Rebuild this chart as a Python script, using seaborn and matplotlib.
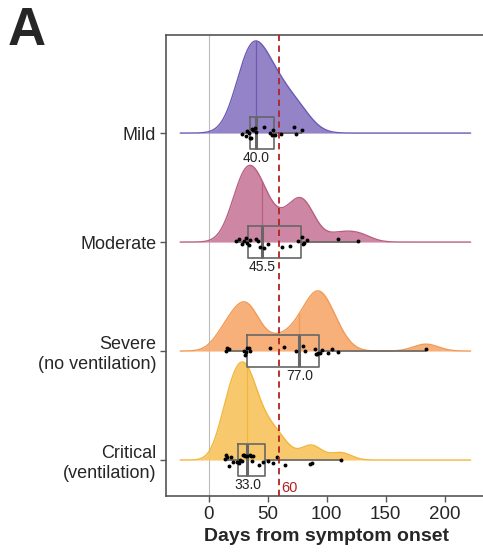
import numpy as np
import pandas as pd
import matplotlib
matplotlib.use("Agg")
import matplotlib.pyplot as plt
import seaborn as sns

# ---- data ----
groups = ["Mild", "Moderate", "Severe\n(no ventilation)", "Critical\n(ventilation)"]
mild_days = [28, 32, 33, 34, 35, 36, 37, 38, 39, 40, 47, 52, 54, 55, 56, 61, 72, 74, 79]
moderate_days = [23, 26, 28, 30, 32, 33, 34, 35, 40, 42, 44, 47, 50, 62, 69, 76, 79, 80, 81, 83, 110, 127]
severe_days = [15, 16, 17, 30, 31, 32, 33, 34, 35, 52, 64, 74, 80, 82, 90, 91, 92, 93, 94, 96, 101, 105, 110, 184]
critical_days = [14, 15, 16, 17, 19, 21, 24, 26, 27, 28, 29, 30, 31, 33, 35, 36, 37, 38, 43, 46, 50, 55, 58, 65, 86, 88, 112]
threshold_days = 60
x_ticks = [0, 50, 100, 150, 200]

fill_colors = ["#8E7CC3", "#CB809E", "#F7AC73", "#F8C664"]
line_colors = ["#6B5BB5", "#B8607F", "#F29A55", "#F2B63C"]
bandwidths = [12.0, 10.5, 10.5, 8.8]

all_days = [mild_days, moderate_days, severe_days, critical_days]
df = pd.DataFrame({
    "group": np.repeat(groups, [len(d) for d in all_days]),
    "days": np.concatenate(all_days),
})

sns.set_style("white")
plt.rcParams["font.family"] = ["Liberation Sans", "DejaVu Sans"]

fig = plt.figure(figsize=(4.83, 5.53), dpi=100)
ax = fig.add_axes([166 / 483, 57 / 553, 320 / 483, 461 / 553])

# boxplot + points through seaborn
sns.boxplot(data=df, x="days", y="group", order=groups, orient="h", width=0.29,
            whis=(0, 100), fill=False, color="#666666", linewidth=1.2,
            showfliers=False, showcaps=False,
            medianprops={"linewidth": 2.2, "color": "#666666"},
            ax=ax, zorder=3)
np.random.seed(3)
sns.stripplot(data=df, x="days", y="group", order=groups, orient="h", color="black",
              size=2.8, jitter=0.055, ax=ax, zorder=4)

# density ridges
grid = np.linspace(-24, 222, 600)
dens = []
for d, bw in zip(all_days, bandwidths):
    d = np.asarray(d, float)
    k = np.exp(-0.5 * ((grid[:, None] - d[None, :]) / bw) ** 2).sum(1) / (len(d) * bw * np.sqrt(2 * np.pi))
    dens.append(k)
scale = 0.9 / max(k.max() for k in dens)
for i, (k, d) in enumerate(zip(dens, all_days)):
    top = i - scale * k
    ax.fill_between(grid, i, top, color=fill_colors[i], alpha=0.95, lw=0, zorder=1 + i * 0.01)
    ax.plot(grid, top, color=line_colors[i], lw=1.0, zorder=1.005 + i * 0.01)
    med = float(np.median(d))
    kmed = np.interp(med, grid, k)
    ax.plot([med, med], [i, i - scale * kmed], color=line_colors[i], lw=0.9, zorder=1.006 + i * 0.01)
    ax.text(med, i + 0.225, f"{med:.1f}", ha="center", va="center", fontsize=10, color="#222222", zorder=5)

ax.axvline(0, color="#BBBBBB", lw=0.8, zorder=0.5)
ax.axvline(threshold_days, color="#B22222", lw=1.3, ls=(0, (3.5, 2.5)), zorder=4.5)
ax.text(threshold_days + 1.5, 3.26, str(threshold_days), color="#B22222", fontsize=10.5,
        ha="left", va="center")

ax.set_xlim(-36, 235)
ax.set_ylim(3.33, -0.9)
ax.set_xticks(x_ticks)
ax.set_xticklabels([str(t) for t in x_ticks], fontsize=13.5)
ax.set_yticks(range(len(groups)))
ax.set_yticklabels(groups, fontsize=13)
ax.set_xlabel("Days from symptom onset", fontsize=14, fontweight="bold", labelpad=4)
ax.set_ylabel("")
ax.tick_params(axis="both", length=4, width=1, color="#555555", left=True, bottom=True, pad=3)
for s in ["left", "bottom", "top"]:
    ax.spines[s].set_color("#555555")
    ax.spines[s].set_linewidth(1.2)
ax.spines["right"].set_visible(False)

fig.text(8 / 483, 1 - 6 / 553, "A", fontsize=38, fontweight="bold", va="top", ha="left")

fig.savefig("out.png", dpi=100)
